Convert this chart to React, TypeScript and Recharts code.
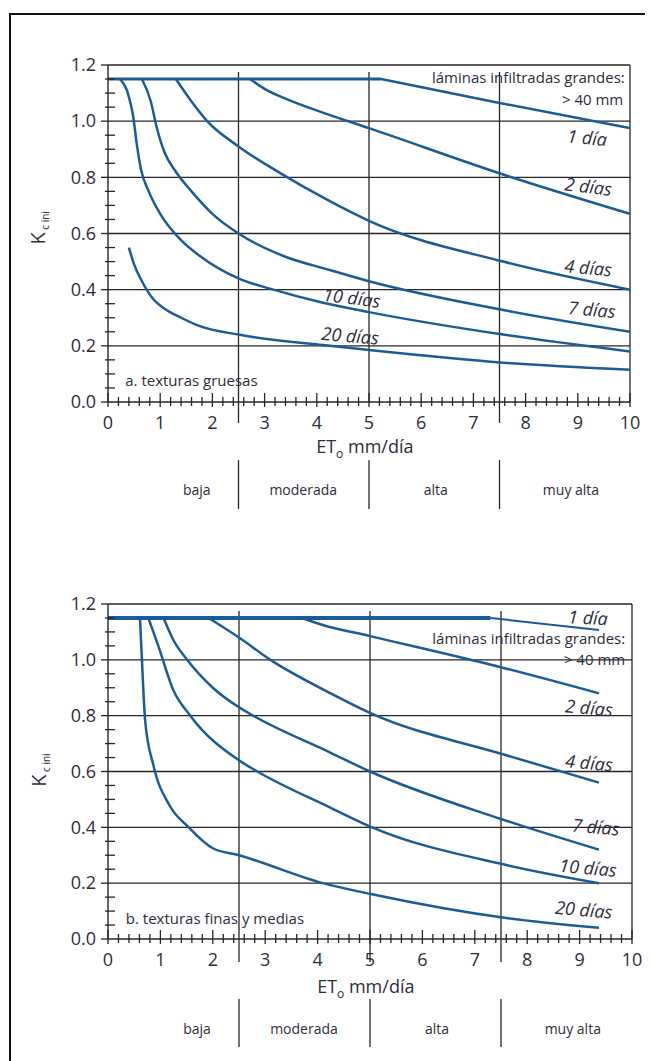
import React from 'react';
import { LineChart, Line, XAxis, YAxis, ReferenceLine, ReferenceDot } from 'recharts';

// a. texturas gruesas (ET0 mm/día -> Kc ini)
const flatA = [{ x: 0, k: 1.15 }, { x: 5.23, k: 1.15 }];
const a1Dia = [{ x: 5.23, k: 1.15 }, { x: 7.5, k: 1.065 }, { x: 10, k: 0.975 }];
const a2Dias = [
  { x: 2.72, k: 1.15 }, { x: 3.0, k: 1.115 }, { x: 3.4, k: 1.08 }, { x: 4.2, k: 1.025 },
  { x: 5, k: 0.975 }, { x: 7.57, k: 0.81 }, { x: 10, k: 0.67 },
];
const a4Dias = [
  { x: 1.3, k: 1.15 }, { x: 1.6, k: 1.07 }, { x: 1.9, k: 1.0 }, { x: 2.5, k: 0.91 },
  { x: 3.3, k: 0.815 }, { x: 4.25, k: 0.715 }, { x: 5, k: 0.645 }, { x: 7.57, k: 0.5 },
  { x: 10, k: 0.4 },
];
const a7Dias = [
  { x: 0.65, k: 1.15 }, { x: 0.82, k: 1.07 }, { x: 0.93, k: 0.98 }, { x: 1.08, k: 0.89 },
  { x: 1.3, k: 0.82 }, { x: 1.6, k: 0.75 }, { x: 2.0, k: 0.67 }, { x: 2.5, k: 0.6 },
  { x: 3.36, k: 0.52 }, { x: 4.25, k: 0.47 }, { x: 5, k: 0.43 }, { x: 7.5, k: 0.33 },
  { x: 10, k: 0.25 },
];
const a10Dias = [
  { x: 0.23, k: 1.15 }, { x: 0.38, k: 1.1 }, { x: 0.48, k: 1.02 }, { x: 0.55, k: 0.92 },
  { x: 0.63, k: 0.83 }, { x: 0.78, k: 0.75 }, { x: 1.0, k: 0.67 }, { x: 1.38, k: 0.58 },
  { x: 1.76, k: 0.52 }, { x: 2.5, k: 0.44 }, { x: 3.17, k: 0.4 }, { x: 4.06, k: 0.356 },
  { x: 5, k: 0.32 }, { x: 7.57, k: 0.24 }, { x: 10, k: 0.18 },
];
const a20Dias = [
  { x: 0.4, k: 0.55 }, { x: 0.5, k: 0.49 }, { x: 0.65, k: 0.43 }, { x: 0.85, k: 0.37 },
  { x: 1.1, k: 0.33 }, { x: 1.4, k: 0.3 }, { x: 1.76, k: 0.27 }, { x: 2.5, k: 0.24 },
  { x: 4.25, k: 0.2 }, { x: 5, k: 0.185 }, { x: 7.57, k: 0.14 }, { x: 10, k: 0.115 },
];

// b. texturas finas y medias
const flatB = [{ x: 0, k: 1.15 }, { x: 7.3, k: 1.15 }];
const b1Dia = [{ x: 7.3, k: 1.15 }, { x: 9.37, k: 1.107 }];
const b2Dias = [
  { x: 3.7, k: 1.15 }, { x: 4.1, k: 1.125 }, { x: 5, k: 1.085 }, { x: 7.57, k: 0.97 },
  { x: 9.37, k: 0.88 },
];
const b4Dias = [
  { x: 1.92, k: 1.15 }, { x: 2.5, k: 1.08 }, { x: 3.1, k: 1.0 }, { x: 4.25, k: 0.88 },
  { x: 5, k: 0.81 }, { x: 7.57, k: 0.66 }, { x: 9.37, k: 0.56 },
];
const b7Dias = [
  { x: 1.06, k: 1.15 }, { x: 1.25, k: 1.07 }, { x: 1.51, k: 1.0 }, { x: 2.0, k: 0.9 },
  { x: 2.5, k: 0.83 }, { x: 2.77, k: 0.8 }, { x: 4.25, k: 0.667 }, { x: 5, k: 0.6 },
  { x: 7.5, k: 0.43 }, { x: 9.37, k: 0.32 },
];
const b10Dias = [
  { x: 0.77, k: 1.15 }, { x: 0.96, k: 1.05 }, { x: 1.25, k: 0.89 }, { x: 1.57, k: 0.8 },
  { x: 2.5, k: 0.64 }, { x: 2.85, k: 0.6 }, { x: 4.25, k: 0.47 }, { x: 5.04, k: 0.4 },
  { x: 7.6, k: 0.265 }, { x: 9.37, k: 0.2 },
];
const b20Dias = [
  { x: 0.61, k: 1.15 }, { x: 0.65, k: 0.99 }, { x: 0.71, k: 0.78 }, { x: 0.87, k: 0.62 },
  { x: 1.17, k: 0.48 }, { x: 1.54, k: 0.4 }, { x: 2.0, k: 0.325 }, { x: 2.5, k: 0.3 },
  { x: 4.1, k: 0.2 }, { x: 5.04, k: 0.16 }, { x: 7.6, k: 0.075 }, { x: 9.37, k: 0.04 },
];

const gridY = [0.2, 0.4, 0.6, 0.8, 1.0, 1.2];
const xTicks = Array.from({ length: 51 }, (_, i) => i / 5);
const yTicks = Array.from({ length: 25 }, (_, i) => Math.round(i * 5) / 100);
const claseBounds = [2.5, 5, 7.5];
const claseLabels = ['baja', 'moderada', 'alta', 'muy alta'];
const claseCentres = [1.7, 3.74, 6.28, 8.87];

const FONT = '"Open Sans", "Noto Sans", sans-serif';
const BLUE = '#1b5b98';
const INK = '#2d2d3a';
const GRID = '#262626';

const isWhole = (v: number, step: number) => Math.abs(v / step - Math.round(v / step)) < 1e-6;

function XTick(props: any) {
  const { x, y, payload } = props;
  const major = isWhole(payload.value, 1);
  return (
    <g>
      <line x1={x} x2={x} y1={y - (major ? 9 : 5)} y2={y + (major ? 5 : 4)} stroke={GRID} strokeWidth={1.3} />
      {major && (
        <text x={x} y={y + 27} textAnchor="middle" fontFamily={FONT} fontSize={18} fill={INK}>
          {Math.round(payload.value)}
        </text>
      )}
    </g>
  );
}

function YTick(props: any) {
  const { x, y, payload } = props;
  const major = isWhole(payload.value, 0.2);
  return (
    <g>
      {major ? (
        <line x1={x - 7} x2={x} y1={y} y2={y} stroke={GRID} strokeWidth={1.3} />
      ) : (
        <line x1={x - 3} x2={x + 7} y1={y} y2={y} stroke={GRID} strokeWidth={1.3} />
      )}
      {major && (
        <text x={x - 12} y={y} dy="0.35em" textAnchor="end" fontFamily={FONT} fontSize={18} fill={INK}>
          {payload.value.toFixed(1)}
        </text>
      )}
    </g>
  );
}

type NoteOpts = { size?: number; italic?: boolean; anchor?: 'start' | 'middle' | 'end'; rotate?: number };

function note(key: string, x: number, y: number, text: React.ReactNode, opts: NoteOpts = {}) {
  const { size = 18, italic = false, anchor = 'middle', rotate = 0 } = opts;
  return (
    <ReferenceDot
      key={key}
      x={x}
      y={y}
      r={0}
      fill="none"
      stroke="none"
      ifOverflow="visible"
      label={(p: any) => {
        const vb = p.viewBox || p;
        const cx = vb.x + (vb.width || 0) / 2;
        const cy = vb.y + (vb.height || 0) / 2;
        return (
          <text
            x={cx}
            y={cy}
            dy="0.35em"
            textAnchor={anchor}
            fontFamily={FONT}
            fontSize={size}
            fontStyle={italic ? 'italic' : 'normal'}
            fill={INK}
            transform={rotate ? `rotate(${rotate} ${cx} ${cy})` : undefined}
          >
            {text}
          </text>
        );
      }}
    />
  );
}

function yLabel(key: string, x: number, y: number) {
  return (
    <ReferenceDot
      key={key}
      x={x}
      y={y}
      r={0}
      fill="none"
      stroke="none"
      ifOverflow="visible"
      label={(p: any) => {
        const vb = p.viewBox || p;
        const cx = vb.x;
        const cy = vb.y;
        return (
          <text x={cx} y={cy} textAnchor="middle" fontFamily={FONT} fill={INK} transform={`rotate(-90 ${cx} ${cy})`}>
            <tspan fontSize={20}>K</tspan>
            <tspan fontSize={10} dy={4}> c ini</tspan>
          </text>
        );
      }}
    />
  );
}

const etLabel = (
  <>
    ET<tspan fontSize={12} dy={5}>o</tspan>
    <tspan dy={-5}> mm/día</tspan>
  </>
);

function curve(key: string, data: { x: number; k: number }[], width = 2.5) {
  return (
    <Line
      key={key}
      data={data}
      dataKey="k"
      type="monotone"
      stroke={BLUE}
      strokeWidth={width}
      dot={false}
      activeDot={false}
      isAnimationActive={false}
    />
  );
}

function Frame(props: {
  width: number;
  height: number;
  margin: { top: number; right: number; left: number; bottom: number };
  gridLow: number[];
  sepY: [number, number];
  claseY: number;
  etY: number;
  children: React.ReactNode[];
}) {
  const { width, height, margin, gridLow, sepY, claseY, etY, children } = props;
  return (
    <LineChart width={width} height={height} margin={margin}>
      <XAxis
        dataKey="x"
        type="number"
        domain={[0, 10]}
        ticks={xTicks}
        interval={0}
        tick={XTick}
        tickSize={0}
        tickMargin={0}
        tickLine={false}
        axisLine={{ stroke: GRID, strokeWidth: 1.4 }}
        height={30}
        allowDataOverflow
      />
      <YAxis
        type="number"
        domain={[0, 1.2]}
        ticks={yTicks}
        interval={0}
        tick={YTick}
        tickSize={0}
        tickMargin={0}
        tickLine={false}
        axisLine={{ stroke: GRID, strokeWidth: 1.4 }}
        width={60}
        allowDataOverflow
      />
      {gridY.map((v) => (
        <ReferenceLine key={`gy${v}`} y={v} stroke={GRID} strokeWidth={1.3} />
      ))}
      <ReferenceLine x={10} stroke={GRID} strokeWidth={1.3} />
      {claseBounds.map((v, i) => (
        <ReferenceLine
          key={`gx${v}`}
          segment={[{ x: v, y: 1.175 }, { x: v, y: gridLow[i] }]}
          stroke={GRID}
          strokeWidth={1.3}
          ifOverflow="visible"
        />
      ))}
      {claseBounds.map((v) => (
        <ReferenceLine
          key={`sep${v}`}
          segment={[{ x: v, y: sepY[0] }, { x: v, y: sepY[1] }]}
          stroke={GRID}
          strokeWidth={1.3}
          ifOverflow="visible"
        />
      ))}
      {claseLabels.map((t, i) => note(`cl${t}`, claseCentres[i], claseY, t, { size: 14 }))}
      {note('et', 4.92, etY, etLabel, { size: 18 })}
      {children}
    </LineChart>
  );
}

export default function App() {
  return (
    <div style={{ position: 'relative', width: 645, height: 1053, background: '#fff' }}>
      <div style={{ position: 'absolute', left: 1, top: 5, width: 644, height: 2, background: '#111' }} />
      <div style={{ position: 'absolute', left: 1, top: 5, width: 2, height: 1048, background: '#111' }} />

      <div style={{ position: 'absolute', left: 0, top: 0 }}>
        <Frame
          width={645}
          height={525}
          margin={{ top: 57, right: 23, left: 40, bottom: 101 }}
          gridLow={[-0.075, 0, -0.075]}
          sepY={[-0.207, -0.381]}
          claseY={-0.313}
          etY={-0.16}
        >
          {[
            curve('fa', flatA, 3),
            curve('a1', a1Dia),
            curve('a2', a2Dias),
            curve('a4', a4Dias),
            curve('a7', a7Dias),
            curve('a10', a10Dias),
            curve('a20', a20Dias),
            note('al1', 9.9, 1.154, 'láminas infiltradas grandes:', { size: 15, anchor: 'end' }),
            note('al2', 9.87, 1.075, '> 40 mm', { size: 15, anchor: 'end' }),
            note('a1l', 9.18, 0.94, '1 día', { italic: true, rotate: 5 }),
            note('a2l', 9.2, 0.766, '2 días', { italic: true, rotate: 7 }),
            note('a4l', 9.2, 0.477, '4 días', { italic: true, rotate: 5 }),
            note('a7l', 9.27, 0.328, '7 días', { italic: true, rotate: 5 }),
            note('a10l', 4.67, 0.37, '10 días', { italic: true, rotate: 7 }),
            note('a20l', 4.64, 0.235, '20 días', { italic: true, rotate: 5 }),
            note('at', 0.33, 0.075, 'a. texturas gruesas', { size: 15, anchor: 'start' }),
            yLabel('ayl', -1.21, 0.62),
          ]}
        </Frame>
      </div>

      <div style={{ position: 'absolute', left: 0, top: 525 }}>
        <Frame
          width={645}
          height={528}
          margin={{ top: 71, right: 21, left: 40, bottom: 92 }}
          gridLow={[-0.082, -0.082, -0.082]}
          sepY={[-0.215, -0.387]}
          claseY={-0.322}
          etY={-0.17}
        >
          {[
            curve('fb', flatB, 4),
            curve('b1', b1Dia, 2),
            curve('b2', b2Dias),
            curve('b4', b4Dias),
            curve('b7', b7Dias),
            curve('b10', b10Dias),
            curve('b20', b20Dias),
            note('b1l', 9.16, 1.15, '1 día', { italic: true, rotate: 3 }),
            note('bl1', 9.87, 1.075, 'láminas infiltradas grandes:', { size: 15, anchor: 'end' }),
            note('bl2', 9.87, 1.0, '> 40 mm', { size: 15, anchor: 'end' }),
            note('b2l', 9.18, 0.827, '2 días', { italic: true, rotate: 5 }),
            note('b4l', 9.18, 0.63, '4 días', { italic: true, rotate: 5 }),
            note('b7l', 9.31, 0.4, '7 días', { italic: true, rotate: 5 }),
            note('b10l', 9.16, 0.254, '10 días', { italic: true, rotate: 5 }),
            note('b20l', 9.08, 0.104, '20 días', { italic: true, rotate: 5 }),
            note('bt', 0.34, 0.072, 'b. texturas finas y medias', { size: 15, anchor: 'start' }),
            yLabel('byl', -1.18, 0.605),
          ]}
        </Frame>
      </div>
    </div>
  );
}
